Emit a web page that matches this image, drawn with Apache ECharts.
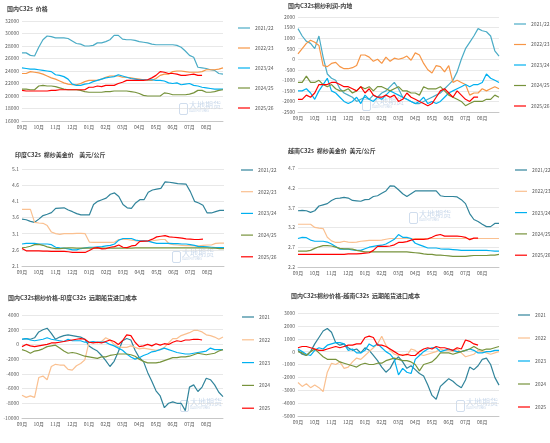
<!DOCTYPE html>
<html>
<head>
<meta charset="utf-8">
<script src="https://cdn.jsdelivr.net/npm/echarts@6/dist/echarts.min.js"></script>
<style>
html, body { margin: 0; padding: 0; background: #fff; }
#main { width: 550px; height: 443px; }
</style>
</head>
<body>
<div id="main"></div>
<script>
// 月份刻度（每月4个点，共49个点）
const months = ['09月', '10月', '11月', '12月', '01月', '02月', '03月', '04月', '05月', '06月', '07月', '08月'];
const seasons = ['2021/22', '2022/23', '2023/24', '2024/25', '2025/26'];
const years = ['2021', '2022', '2023', '2024', '2025'];

// 国内C32s 价格
const p1_2122 = [26900,26900,26500,26400,27800,29000,29600,29500,29300,29300,29300,29200,28800,28400,28300,28000,28000,28100,28500,28500,28700,29000,29700,29700,29100,29000,29000,28900,28700,28600,28500,28300,28200,28200,28200,28200,28200,28100,27800,27200,26500,26200,24600,24500,24400,24200,24100,23600,23500];
const p1_2223 = [23600,23600,23900,23800,23700,23500,23200,22900,22700,22400,22100,21900,21800,21800,22000,22300,22500,22500,22500,22700,23000,23200,23200,23200,23000,23000,22900,22800,22700,22600,22500,22500,22800,23300,23500,23500,23900,24000,24000,23900,23800,23800,23800,23900,24200,24200,24200,24300,24500];
const p1_2324 = [24500,24400,24300,24300,24200,24100,24000,23900,23400,23300,23100,22700,21900,21700,21700,21900,22000,22300,22500,22700,22900,23000,23100,23400,23200,23000,22800,22700,22600,22600,22600,22600,22500,22500,22400,22100,22000,22100,21800,21900,22000,21700,21600,21400,21300,21200,21100,21100,21100];
const p1_2425 = [21100,21100,21000,21000,21600,21700,21600,21600,21500,21300,21100,21000,21000,21000,20900,20700,20600,20600,20600,20600,20700,20700,20800,20800,20800,20800,20700,20600,20400,20100,20000,20000,20000,20000,20500,20400,20200,20200,20200,20200,20300,20500,20900,20900,20600,20600,20700,20900,21000];
const p1_2526 = [20900,20800,20800,20800,20800,20800,20800,20900,20900,21000,21000,21000,21000,21000,21000,21000,21400,21400,21600,21500,21700,21700,21700,22000,22200,22500,22500,22500,22500,22500,22600,22900,23300,23900,23800,23600,23600,23500,23300,23300,23400,23500,23300,23300];

// 国内C32s棉纱利润-内地
const p2_2122 = [1450,1100,850,750,500,1100,100,-700,-900,-1000,-1400,-1600,-1700,-1800,-2000,-1900,-1800,-1900,-1700,-1800,-1600,-1500,-1300,-1100,-1400,-1800,-1900,-2000,-2100,-2100,-2000,-1900,-1800,-1700,-1600,-1400,-1200,-1000,-600,0,500,800,1100,1450,1350,1300,1100,400,150];
const p2_2223 = [250,500,750,900,800,650,-300,-350,-200,-150,-350,-450,-450,-400,-300,200,200,100,-100,0,-200,100,-100,50,0,50,150,-50,300,200,-200,-500,-650,-300,-350,-600,-300,-1100,-1000,-1100,-1200,-1700,-1600,-1600,-1400,-1500,-1400,-1300,-1400];
const p2_2324 = [-1500,-1500,-1400,-1600,-1900,-1500,-1200,-900,-1500,-1600,-1800,-2000,-2100,-2000,-1800,-2100,-1700,-1900,-2000,-1800,-1900,-1700,-1500,-1600,-1700,-1800,-1900,-2000,-2100,-2000,-1800,-2100,-2000,-2100,-2000,-1800,-1600,-1500,-1400,-1300,-1200,-1300,-1200,-1200,-1100,-700,-900,-1000,-1100];
const p2_2425 = [-1100,-1100,-800,-1100,-1100,-1000,-1200,-1300,-1200,-1400,-1500,-1500,-1400,-1600,-1500,-1300,-1400,-1300,-1500,-1300,-1300,-1400,-1500,-1400,-1300,-1500,-1500,-1600,-1600,-1700,-1300,-1400,-1400,-1400,-1300,-1500,-1700,-1800,-1900,-2000,-2200,-2100,-2000,-2000,-2000,-1900,-1900,-1700,-1800];
const p2_2526 = [-1900,-1900,-1700,-1800,-1600,-1200,-1200,-1200,-1100,-1100,-1200,-1300,-1300,-1400,-1500,-1300,-1600,-1400,-1700,-1800,-1800,-1700,-1800,-1700,-2000,-1900,-1600,-1800,-1900,-2000,-2100,-2200,-2100,-1800,-1500,-1400,-1600,-1800,-1500,-1700,-1900,-2000,-1800,-1800];

// 印度C32s 棉纱美金价
const p3_2122 = [3.55,3.53,3.48,3.45,3.55,3.66,3.7,3.75,3.88,3.89,3.9,3.83,3.78,3.72,3.68,3.68,3.68,4.0,4.1,4.15,4.2,4.32,4.36,4.25,4.0,3.9,3.88,4.05,4.15,4.15,4.38,4.45,4.48,4.5,4.7,4.69,4.67,4.65,4.64,4.63,4.4,4.1,4.05,3.98,3.74,3.74,3.78,3.82,3.82];
const p3_2223 = [3.85,3.85,3.85,3.45,3.43,3.42,3.35,3.15,3.1,3.08,3.1,3.1,3.1,3.11,3.11,3.1,2.84,2.83,2.83,2.83,2.83,2.83,2.84,2.92,2.92,2.92,2.9,2.88,2.87,2.86,2.87,2.88,2.9,2.92,2.92,2.78,2.76,2.75,2.74,2.73,2.73,2.72,2.72,2.74,2.75,2.75,2.8,2.81,2.81];
const p3_2324 = [2.78,2.8,2.8,2.8,2.78,2.78,2.78,2.76,2.68,2.66,2.65,2.63,2.6,2.6,2.64,2.66,2.68,2.68,2.69,2.7,2.72,2.74,2.78,2.9,2.95,2.95,2.95,2.9,2.88,2.88,2.87,2.83,2.8,2.8,2.8,2.8,2.79,2.79,2.78,2.78,2.76,2.74,2.7,2.7,2.69,2.68,2.67,2.67,2.67];
const p3_2425 = [2.66,2.68,2.71,2.76,2.77,2.74,2.69,2.66,2.64,2.64,2.65,2.66,2.66,2.65,2.65,2.65,2.65,2.65,2.65,2.65,2.65,2.65,2.65,2.65,2.65,2.65,2.65,2.66,2.66,2.66,2.66,2.66,2.66,2.66,2.66,2.66,2.66,2.66,2.66,2.66,2.66,2.66,2.66,2.66,2.66,2.65,2.65,2.64,2.64];
const p3_2526 = [2.64,2.57,2.57,2.57,2.57,2.56,2.56,2.55,2.55,2.55,2.55,2.54,2.52,2.52,2.52,2.52,2.58,2.65,2.67,2.63,2.64,2.68,2.7,2.75,2.68,2.67,2.72,2.74,2.86,2.87,2.88,2.93,3.0,3.02,3.04,3.0,2.99,2.98,2.96,2.94,2.93,2.92,2.92,2.93];

// 越南C32s 棉纱美金价
const p4_2122 = [3.62,3.63,3.62,3.58,3.62,3.74,3.77,3.8,3.88,3.93,3.94,3.96,3.94,3.88,3.87,3.86,3.9,3.91,3.98,4.0,4.06,4.12,4.25,4.24,4.15,4.05,3.98,4.05,4.12,4.12,4.12,4.12,4.12,4.12,4.0,3.98,3.98,3.98,3.97,3.9,3.8,3.55,3.4,3.35,3.28,3.22,3.22,3.3,3.3];
const p4_2223 = [3.28,3.28,3.28,3.28,3.2,3.18,3.17,2.95,2.86,2.82,2.82,2.85,2.83,2.82,2.83,2.85,2.86,2.87,2.87,2.87,2.88,2.9,2.92,2.92,2.92,2.92,2.92,2.92,2.92,2.92,2.92,2.92,2.92,2.92,2.92,2.92,2.92,2.92,2.92,2.92,2.92,2.92,2.92,2.92,2.92,2.92,2.92,2.92,2.92];
const p4_2324 = [2.92,2.95,2.94,2.88,2.85,2.85,2.85,2.83,2.78,2.72,2.65,2.65,2.65,2.63,2.62,2.62,2.66,2.7,2.72,2.74,2.75,2.78,2.84,2.9,3.02,2.95,2.95,2.92,2.8,2.76,2.72,2.68,2.68,2.68,2.66,2.65,2.65,2.64,2.63,2.62,2.62,2.62,2.62,2.62,2.62,2.62,2.61,2.6,2.6];
const p4_2425 = [2.6,2.6,2.6,2.62,2.67,2.71,2.74,2.74,2.73,2.7,2.67,2.66,2.66,2.65,2.62,2.6,2.58,2.58,2.58,2.58,2.58,2.58,2.58,2.58,2.58,2.58,2.58,2.57,2.56,2.55,2.53,2.52,2.52,2.5,2.5,2.49,2.48,2.47,2.47,2.47,2.47,2.48,2.49,2.49,2.49,2.49,2.5,2.5,2.52];
const p4_2526 = [2.52,2.52,2.52,2.52,2.52,2.52,2.52,2.52,2.52,2.52,2.52,2.52,2.53,2.53,2.53,2.54,2.55,2.56,2.62,2.72,2.72,2.72,2.73,2.76,2.82,2.82,2.84,2.88,2.9,2.9,2.9,2.91,2.95,3.0,3.02,2.98,2.98,2.98,2.98,2.97,2.95,2.89,2.93,2.93];

// 国内C32s棉纱价格-印度C32s 远期船货进口成本
const p5_2021 = [700,800,700,900,1700,2000,2200,1500,700,1000,1200,1300,1200,1100,1000,700,-200,-600,-900,-1500,-2200,-3000,-2300,-1000,500,800,600,-800,-1800,-2300,-3800,-5000,-6300,-7000,-8600,-8000,-7800,-8000,-8000,-9000,-5800,-5500,-6400,-5800,-4600,-4800,-5500,-6500,-7100];
const p5_2022 = [-6900,-7200,-7000,-7200,-4500,-4300,-4800,-3000,-2700,-2800,-2800,-3400,-3500,-2900,-2600,-2100,300,300,200,400,900,600,0,-300,-400,-400,-200,-400,-600,-500,-600,-700,-800,-700,-400,200,800,800,1200,1400,1600,1900,1900,1700,1300,1200,1000,700,1000];
const p5_2023 = [700,800,600,500,600,700,900,700,600,500,400,700,500,500,500,300,300,400,300,300,300,0,-200,-500,-800,-1300,-1700,-2000,-1800,-1500,-1300,-1000,-900,-700,-500,-700,-900,-1100,-1200,-1300,-1300,-1200,-1100,-1000,-900,-500,-700,-700,-700];
const p5_2024 = [-700,-900,-1200,-900,-800,-600,-300,-200,-100,-500,-900,-1200,-1100,-1200,-1400,-1600,-1700,-1800,-1900,-1700,-1700,-1500,-1400,-1300,-1300,-1300,-1400,-1600,-2000,-2300,-2500,-2500,-2500,-2400,-2200,-2000,-1800,-1800,-1700,-1700,-1600,-1400,-1200,-1300,-1400,-1300,-1200,-900,-700];
const p5_2025 = [-300,0,-200,-300,-200,-100,0,200,200,300,400,500,600,700,800,700,300,200,300,200,400,600,400,0,500,1300,1200,300,-300,-200,0,-200,100,-100,100,0,300,500,400,600,600,700,700,600];

// 国内C32s棉纱价格-越南C32s 远期船货进口成本
const p6_2021 = [100,-200,-300,0,600,1100,1600,1800,1500,700,500,600,300,100,200,-100,300,100,-300,-700,-1200,-1600,-1300,-700,-400,-800,-1300,-1100,-1400,-1700,-1900,-2600,-3400,-3700,-2700,-2400,-2100,-2300,-2600,-2800,-2200,-1200,-1400,-1100,-600,-500,-1000,-2000,-2600];
const p6_2022 = [-2400,-2700,-2500,-2800,-2600,-2800,-3100,-1600,-900,-1000,-800,-1300,-1200,-800,-500,-600,-300,0,300,600,1200,500,100,-200,-300,-200,-300,200,100,-200,-300,-200,-100,0,200,100,100,0,200,-100,-400,-300,-200,100,0,-100,-200,-100,0];
const p6_2023 = [200,0,-200,-300,100,300,200,500,600,700,700,600,100,200,-100,-100,100,600,400,600,300,0,-200,-600,-1800,-1300,-1600,-1700,-600,-300,0,200,300,300,0,100,200,100,0,0,100,200,100,-100,-100,0,0,100,100];
const p6_2024 = [0,-100,-300,0,200,-100,-400,-600,-600,-600,-800,-900,-1000,-1100,-1200,-1000,-900,-1000,-1000,-900,-900,-700,-600,-500,-600,-700,-700,-800,-1000,-1500,-1000,-900,-800,-500,-100,-100,-100,-200,-100,0,100,200,400,200,100,200,200,300,400];
const p6_2025 = [300,400,400,300,200,100,100,200,300,400,300,400,500,500,600,600,1100,1200,1100,500,500,400,200,0,-200,-300,-200,-300,-300,0,200,300,200,400,300,300,200,100,300,200,900,800,600,500];

const lightColors = ['#4bacc6', '#f79646', '#00b0f0', '#77933c', '#ff0000'];
const darkColors = ['#31849b', '#fac090', '#00b0f0', '#77933c', '#ff0000'];

const slots = [];
for (let i = 0; i < 49; i++) slots.push(String(i));

const panels = [
    { title: '国内C32s  价格', tx: 7, ty: 6, grid: [22, 21, 201, 100], min: 16000, max: 32000, step: 2000, dec: 0,
      names: seasons, colors: lightColors, data: [p1_2122, p1_2223, p1_2324, p1_2425, p1_2526], lx: 238, ly: 25, lgap: 20, mark: [177, 101] },
    { title: '国内C32s棉纱利润-内地', tx: 288, ty: 3, grid: [298, 17, 201, 95], min: -2500, max: 2000, step: 500, dec: 0,
      names: seasons, colors: lightColors, data: [p2_2122, p2_2223, p2_2324, p2_2425, p2_2526], lx: 514, ly: 21, lgap: 20.5, mark: [360, 97] },
    { title: '印度C32s  棉纱美金价    美元/公斤', tx: 15, ty: 152, grid: [22, 169, 202, 97], min: 2.1, max: 5.1, step: 0.5, dec: 1,
      names: seasons, colors: darkColors, data: [p3_2122, p3_2223, p3_2324, p3_2425, p3_2526], lx: 241, ly: 167, lgap: 21.7, mark: [170, 249] },
    { title: '越南C32s  棉纱美金价  美元/公斤', tx: 288, ty: 148, grid: [298, 168, 201, 99], min: 2.2, max: 4.7, step: 0.5, dec: 1,
      names: seasons, colors: darkColors, data: [p4_2122, p4_2223, p4_2324, p4_2425, p4_2526], lx: 515, ly: 167, lgap: 21.3, mark: [407, 210] },
    { title: '国内C32s棉纱价格-印度C32s  远期船货进口成本', tx: 8, ty: 295, grid: [22, 315, 201, 103], min: -10000, max: 4000, step: 2000, dec: 0,
      names: years, colors: darkColors, data: [p5_2021, p5_2022, p5_2023, p5_2024, p5_2025], lx: 242, ly: 314, lgap: 22.8, mark: [178, 398] },
    { title: '国内C32s棉纱价格-越南C32s  远期船货进口成本', tx: 291, ty: 293, grid: [298, 313, 201, 103], min: -5000, max: 3000, step: 1000, dec: 0,
      names: years, colors: darkColors, data: [p6_2021, p6_2022, p6_2023, p6_2024, p6_2025], lx: 518, ly: 312, lgap: 23, mark: [454, 398] }
];

const chart = echarts.init(document.getElementById('main'), null, { renderer: 'canvas' });

// 水印
const marks = [];
panels.forEach((p) => {
    const x = p.mark[0], y = p.mark[1];
    marks.push({ type: 'rect', left: x, top: y, z: 0, shape: { width: 8, height: 11, r: 1.5 },
        style: { fill: 'none', stroke: 'rgba(150,180,215,0.45)', lineWidth: 1 } });
    marks.push({ type: 'text', left: x + 12, top: y, z: 0,
        style: { text: '大地期货', fontSize: 8, fill: 'rgba(150,180,215,0.5)', fontFamily: 'Noto Sans CJK SC' } });
    marks.push({ type: 'text', left: x + 12, top: y + 9, z: 0,
        style: { text: 'DADI FUTURES', fontSize: 3, fill: 'rgba(150,180,215,0.5)', fontFamily: 'Roboto' } });
});

chart.setOption({
    animation: false,
    textStyle: { fontFamily: 'Noto Sans CJK SC' },
    graphic: marks,
    title: panels.map((p) => ({
        text: p.title, left: p.tx, top: p.ty, padding: 0,
        textStyle: { fontSize: 6, fontWeight: 'bold', color: '#404040', fontFamily: 'Noto Sans CJK SC' }
    })),
    grid: panels.map((p) => ({ left: p.grid[0], top: p.grid[1], width: p.grid[2], height: p.grid[3] })),
    legend: panels.map((p) => ({
        orient: 'vertical', left: p.lx, top: p.ly, padding: 0,
        itemGap: p.lgap - 6, icon: 'rect', itemWidth: 12, itemHeight: 1.2,
        selectedMode: false,
        textStyle: { fontSize: 5, color: '#595959', lineHeight: 6, fontFamily: 'Noto Sans CJK SC' },
        data: p.names.map((n, j) => ({ name: n, itemStyle: { color: p.colors[j] } }))
    })),
    xAxis: panels.map((p, k) => ({
        type: 'category', gridIndex: k, data: slots, boundaryGap: false,
        axisLine: { onZero: false, lineStyle: { color: '#bfbfbf', width: 0.8 } },
        axisTick: { show: false },
        axisLabel: {
            fontSize: 5, color: '#595959', margin: 4,
            interval: (i) => i % 4 === 0 && i < 48,
            formatter: (v, i) => months[i / 4] || ''
        }
    })),
    yAxis: panels.map((p, k) => ({
        type: 'value', gridIndex: k, min: p.min, max: p.max, interval: p.step,
        axisLine: { show: false }, axisTick: { show: false },
        splitLine: { lineStyle: { color: '#d9d9d9', width: 0.6 } },
        axisLabel: {
            fontSize: 5, color: '#595959', margin: 3,
            formatter: (v) => p.dec ? v.toFixed(p.dec) : String(Math.round(v))
        }
    })),
    series: panels.flatMap((p, k) => p.data.map((d, j) => ({
        type: 'line', name: p.names[j], xAxisIndex: k, yAxisIndex: k, data: d,
        symbol: 'none', showSymbol: false,
        lineStyle: { width: 1.2, color: p.colors[j] },
        itemStyle: { color: p.colors[j] },
        emphasis: { disabled: true }
    })))
});
</script>
</body>
</html>
